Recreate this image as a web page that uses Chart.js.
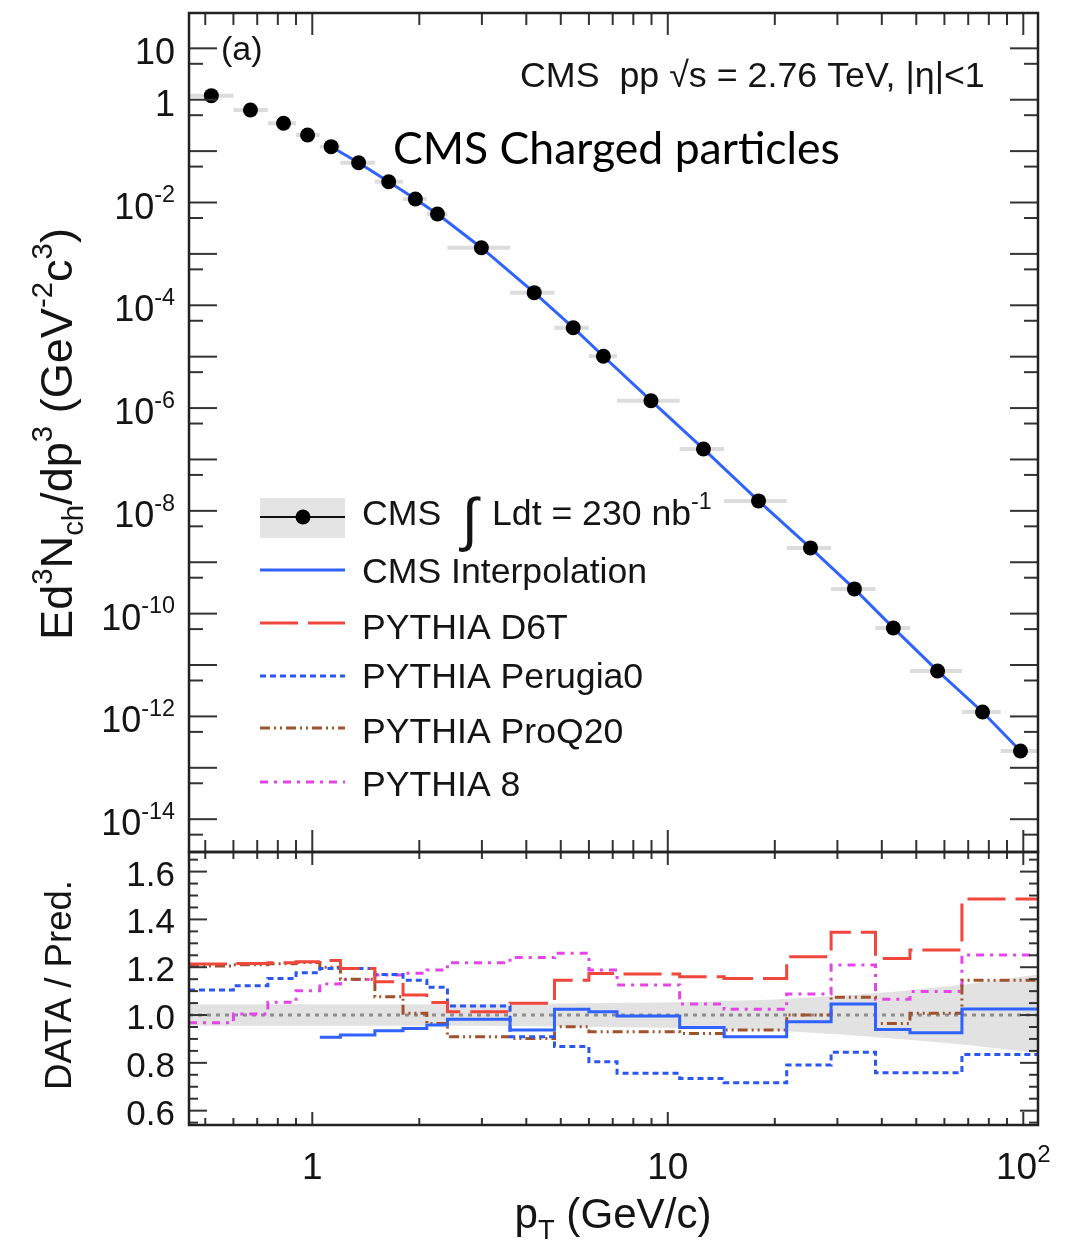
<!DOCTYPE html>
<html>
<head>
<meta charset="utf-8">
<script src="https://cdn.jsdelivr.net/npm/chart.js@4"></script>
<style>
body { margin: 0; background: #fff; width: 1078px; height: 1248px; position: relative; overflow: hidden; }
canvas { position: absolute; left: 0; }
#top { top: 0; }
#ratio { top: 840px; }
</style>
</head>
<body>
<canvas id="top" width="1078" height="860"></canvas>
<canvas id="ratio" width="1078" height="408"></canvas>
<script>
// pT bin edges (GeV/c), shared by the spectrum points and the ratio histograms
const binEdges = [0.45, 0.6, 0.75, 0.9, 1.05, 1.2, 1.5, 1.8, 2.1, 2.4, 3.6, 4.8, 6.0, 7.2, 10.8, 14.4, 21.6, 28.8, 38.4, 48.0, 67.2, 86.4, 110];

// measured invariant yield
const ptPoints = [0.52, 0.67, 0.83, 0.97, 1.13, 1.35, 1.64, 1.95, 2.25, 2.99, 4.21, 5.42, 6.59, 8.97, 12.6, 18.0, 25.2, 33.5, 43.1, 57.4, 76.8, 98.2];
const yieldPoints = [1.20, 0.63, 0.348, 0.206, 0.122, 0.0594, 0.0254, 0.0117, 0.00597, 0.00132, 1.76e-4, 3.66e-5, 1.02e-5, 1.39e-6, 1.60e-7, 1.56e-8, 1.90e-9, 3.03e-10, 5.27e-11, 7.67e-12, 1.22e-12, 2.13e-13];
const interpFrom = 4; // interpolation curve starts at the 5th point

// DATA / Pred. per bin
const ratioInterp = [null, null, null, null, 0.907, 0.917, 0.934, 0.944, 0.958, 0.982, 0.937, 1.024, 1.014, 0.996, 0.948, 0.909, 0.972, 1.046, 0.940, 0.926, 1.025, 1.025];
const ratioD6T = [1.213, 1.216, 1.219, 1.223, 1.228, 1.195, 1.139, 1.084, 1.052, 1.014, 1.049, 1.146, 1.174, 1.172, 1.160, 1.153, 1.244, 1.346, 1.237, 1.272, 1.485, 1.485];
const ratioPerugia0 = [1.105, 1.123, 1.153, 1.177, 1.195, 1.195, 1.170, 1.146, 1.116, 1.038, 0.909, 0.868, 0.805, 0.756, 0.735, 0.717, 0.791, 0.844, 0.759, 0.759, 0.835, 0.835];
const ratioProQ20 = [1.205, 1.210, 1.215, 1.220, 1.200, 1.150, 1.077, 1.007, 0.965, 0.909, 0.902, 0.951, 0.930, 0.930, 0.923, 0.937, 1.000, 1.074, 0.965, 1.007, 1.146, 1.146];
const ratioPythia8 = [0.968, 1.004, 1.053, 1.102, 1.130, 1.149, 1.167, 1.175, 1.188, 1.219, 1.241, 1.258, 1.188, 1.126, 1.046, 1.024, 1.088, 1.209, 1.066, 1.098, 1.251, 1.251];

// systematic uncertainty band around 1
const bandPt = [0.45, 3, 7, 12, 20, 30, 45, 70, 110];
const bandUp = [1.045, 1.045, 1.05, 1.055, 1.065, 1.08, 1.10, 1.13, 1.17];
const bandLo = [0.955, 0.955, 0.95, 0.945, 0.935, 0.92, 0.90, 0.875, 0.84];

// axis ranges and tick labels
const xRange = [0.45, 110];
const yRange = [2.3e-15, 48.7];
const ratioRange = [0.54, 1.682];
const xLabelValues = [1, 10, 100];
const yLabelExps = [1, 0, -2, -4, -6, -8, -10, -12, -14];
const ratioLabels = [0.6, 0.8, 1.0, 1.2, 1.4, 1.6];

const legendNames = ["CMS", "CMS Interpolation", "PYTHIA D6T", "PYTHIA Perugia0", "PYTHIA ProQ20", "PYTHIA 8"];

const FONT = '"Liberation Sans", Arial, Helvetica, sans-serif';
const INK = "#141414";
const C_INTERP = "#2f62ff", C_D6T = "#f0463c", C_PER = "#2b56f0", C_PRO = "#a0522d", C_P8 = "#e545e8";
const D_D6T = [38, 10], D_PER = [6, 4], D_PRO = [10, 4, 2, 4, 2, 4], D_P8 = [8, 6, 3, 6];

function xy(xs, ys) { return xs.map((x, i) => ({ x: x, y: ys[i] })); }

function hist(vals) {
    let pts = [];
    for (let i = 0; i < vals.length; i++) {
        if (vals[i] === null) continue;
        pts.push({ x: binEdges[i], y: vals[i] });
    }
    pts.push({ x: binEdges[vals.length], y: vals[vals.length - 1] });
    return pts;
}

// parts: [text, kind]  kind 0 normal, 1 superscript, -1 subscript
function richWidth(ctx, parts, size) {
    let w = 0;
    for (const [t, k] of parts) {
        ctx.font = (k ? size * 0.65 : size) + "px " + FONT;
        w += ctx.measureText(t).width;
    }
    return w;
}
function drawRich(ctx, parts, x, y, size, align) {
    let w = richWidth(ctx, parts, size);
    let cx = align === "right" ? x - w : align === "center" ? x - w / 2 : x;
    ctx.textAlign = "left";
    ctx.textBaseline = "alphabetic";
    for (const [t, k] of parts) {
        ctx.font = (k ? size * 0.65 : size) + "px " + FONT;
        let dy = k === 1 ? -size * 0.45 : k === -1 ? size * 0.25 : 0;
        ctx.fillText(t, cx, y + dy);
        cx += ctx.measureText(t).width;
    }
}
// font size that makes the parts span the given width
function fitSize(ctx, parts, width) {
    return 40 * width / richWidth(ctx, parts, 40);
}

function logTicks(lo, hi) {
    let major = [], minor = [];
    for (let e = -16; e <= 3; e++) {
        let d = Math.pow(10, e);
        if (d >= lo && d <= hi) major.push(d);
        for (let m = 2; m <= 9; m++) {
            let v = m * d;
            if (v > lo && v < hi) minor.push(v);
        }
    }
    return { major, minor };
}

function line(ctx, x1, y1, x2, y2) {
    ctx.beginPath();
    ctx.moveTo(x1, y1);
    ctx.lineTo(x2, y2);
    ctx.stroke();
}

function drawXTicks(ctx, sx, a, longTop, shortTop, longBot, shortBot) {
    const t = logTicks(xRange[0], xRange[1]);
    ctx.strokeStyle = "#333";
    ctx.lineWidth = 2;
    for (const v of t.major) {
        const p = sx.getPixelForValue(v);
        line(ctx, p, a.top, p, a.top + longTop);
        line(ctx, p, a.bottom, p, a.bottom - longBot);
    }
    for (const v of t.minor) {
        const p = sx.getPixelForValue(v);
        line(ctx, p, a.top, p, a.top + shortTop);
        line(ctx, p, a.bottom, p, a.bottom - shortBot);
    }
}

const topPanel = {
    id: "topPanel",
    beforeDatasetsDraw(chart) {
        const ctx = chart.ctx, sx = chart.scales.x, sy = chart.scales.y;
        ctx.save();
        ctx.strokeStyle = "rgba(185,185,185,0.5)";
        ctx.lineWidth = 4;
        for (let i = 0; i < ptPoints.length; i++) {
            const y = sy.getPixelForValue(yieldPoints[i]);
            line(ctx, sx.getPixelForValue(binEdges[i]), y, sx.getPixelForValue(binEdges[i + 1]), y);
        }
        ctx.restore();
    },
    afterDraw(chart) {
        const ctx = chart.ctx, a = chart.chartArea, sx = chart.scales.x, sy = chart.scales.y;
        ctx.save();
        // y ticks: decades long, half decades short
        ctx.strokeStyle = "#333";
        ctx.lineWidth = 2;
        for (let e = -15; e <= 1; e++) {
            const d = Math.pow(10, e);
            const py = sy.getPixelForValue(d);
            if (py >= a.top && py <= a.bottom) {
                line(ctx, a.left, py, a.left + 28, py);
                line(ctx, a.right, py, a.right - 28, py);
            }
            const ph = sy.getPixelForValue(d * 5);
            if (ph >= a.top && ph <= a.bottom) {
                line(ctx, a.left, ph, a.left + 14, ph);
                line(ctx, a.right, ph, a.right - 14, ph);
            }
        }
        drawXTicks(ctx, sx, a, 22, 12, 22, 12);
        ctx.lineWidth = 2.5;
        ctx.strokeStyle = "#222";
        ctx.strokeRect(a.left, a.top, a.right - a.left, a.bottom - a.top);

        // y tick labels
        ctx.fillStyle = INK;
        for (const e of yLabelExps) {
            const py = sy.getPixelForValue(Math.pow(10, e)) + 16;
            let parts = e === 1 ? [["10", 0]] : e === 0 ? [["1", 0]] : [["10", 0], ["-" + (-e), 1]];
            drawRich(ctx, parts, 175, py, 36, "right");
        }

        // y axis title
        const yTitle = [["Ed", 0], ["3", 1], ["N", 0], ["ch", -1], ["/dp", 0], ["3", 1], [" (GeV", 0], ["-2", 1], ["c", 0], ["3", 1], [")", 0]];
        ctx.save();
        ctx.translate(72, 434);
        ctx.rotate(-Math.PI / 2);
        drawRich(ctx, yTitle, 0, 0, fitSize(ctx, yTitle, 412), "center");
        ctx.restore();

        // texts in the frame
        drawRich(ctx, [["(a)", 0]], 221, 60, 34, "left");
        const energy = [["CMS  pp \u221As = 2.76 TeV, |\u03B7|<1", 0]];
        drawRich(ctx, energy, 520, 87, Math.min(36, fitSize(ctx, energy, 465)), "left");
        ctx.font = '40px Lato, "Open Sans", sans-serif';
        const title = "CMS Charged particles";
        const sz = 40 * 447 / ctx.measureText(title).width;
        ctx.font = sz + 'px Lato, "Open Sans", sans-serif';
        ctx.textAlign = "left";
        ctx.textBaseline = "alphabetic";
        ctx.fillStyle = "#000";
        ctx.fillText(title, 393, 164);

        // legend
        const rows = [517, 570, 623, 676, 728, 782];
        const x0 = 260, x1 = 345, tx = 362;
        ctx.fillStyle = "#e4e4e4";
        ctx.fillRect(x0, 498, x1 - x0, 40);
        ctx.strokeStyle = "#111";
        ctx.lineWidth = 2;
        line(ctx, x0, rows[0], x1, rows[0]);
        ctx.fillStyle = "#000";
        ctx.beginPath();
        ctx.arc(303, rows[0], 7.5, 0, Math.PI * 2);
        ctx.fill();
        const styles = [null, [C_INTERP, []], [C_D6T, D_D6T], [C_PER, D_PER], [C_PRO, D_PRO], [C_P8, D_P8]];
        for (let i = 1; i < rows.length; i++) {
            ctx.strokeStyle = styles[i][0];
            ctx.setLineDash(styles[i][1]);
            ctx.lineWidth = 3;
            line(ctx, x0, rows[i], x1, rows[i]);
        }
        ctx.setLineDash([]);
        ctx.fillStyle = INK;
        const lsz = fitSize(ctx, [[legendNames[2], 0]], 206);
        const shift = [-5, 0, 3, -1, 2, 1];
        for (let i = 0; i < rows.length; i++) {
            drawRich(ctx, [[legendNames[i], 0]], tx, rows[i] + shift[i] + lsz * 0.36, lsz, "left");
        }
        ctx.font = "italic 58px " + FONT;
        ctx.fillText("\u222B", 462, rows[0] + 22);
        drawRich(ctx, [["Ldt = 230 nb", 0], ["-1", 1]], 492, rows[0] - 5 + lsz * 0.36, lsz, "left");
        ctx.restore();
    }
};

const ratioPanel = {
    id: "ratioPanel",
    afterDraw(chart) {
        const ctx = chart.ctx, a = chart.chartArea, sx = chart.scales.x, sy = chart.scales.y;
        ctx.save();
        ctx.strokeStyle = "#333";
        ctx.lineWidth = 2;
        for (let k = 11; k <= 34; k++) {
            const v = k * 0.05;
            const py = sy.getPixelForValue(v);
            if (py < a.top || py > a.bottom) continue;
            const len = k % 4 === 0 ? 18 : 9;
            line(ctx, a.left, py, a.left + len, py);
            line(ctx, a.right, py, a.right - len, py);
        }
        drawXTicks(ctx, sx, a, 13, 7, 13, 7);
        ctx.lineWidth = 2.5;
        ctx.strokeStyle = "#222";
        ctx.strokeRect(a.left, a.top, a.right - a.left, a.bottom - a.top);

        ctx.fillStyle = INK;
        for (const v of ratioLabels) {
            drawRich(ctx, [[v.toFixed(1), 0]], 175, sy.getPixelForValue(v) + 14, 35, "right");
        }
        const labelY = a.bottom + 54;
        for (const v of xLabelValues) {
            let parts = v === 100 ? [["10", 0], ["2", 1]] : [[String(v), 0]];
            drawRich(ctx, parts, sx.getPixelForValue(v), labelY, 37, "center");
        }
        const xTitle = [["p", 0], ["T", -1], [" (GeV/c)", 0]];
        drawRich(ctx, xTitle, 613, a.bottom + 103, fitSize(ctx, xTitle, 197), "center");

        const rTitle = [["DATA / Pred.", 0]];
        ctx.save();
        ctx.translate(71, 985 - 840);
        ctx.rotate(-Math.PI / 2);
        drawRich(ctx, rTitle, 0, 0, fitSize(ctx, rTitle, 210), "center");
        ctx.restore();
        ctx.restore();
    }
};

const common = {
    responsive: false,
    animation: false,
    events: [],
    plugins: { legend: { display: false }, tooltip: { enabled: false } }
};

new Chart(document.getElementById("top").getContext("2d"), {
    type: "scatter",
    data: {
        datasets: [
            {
                label: "CMS",
                data: xy(ptPoints, yieldPoints),
                backgroundColor: "#000",
                borderWidth: 0,
                pointRadius: 7.5,
                order: 0
            },
            {
                type: "line",
                label: "CMS Interpolation",
                data: xy(ptPoints.slice(interpFrom), yieldPoints.slice(interpFrom)),
                borderColor: C_INTERP,
                borderWidth: 3,
                pointRadius: 0,
                fill: false,
                order: 1
            }
        ]
    },
    options: Object.assign({}, common, {
        layout: { padding: { left: 189, right: 40, top: 13, bottom: 8 } },
        scales: {
            x: { type: "logarithmic", min: xRange[0], max: xRange[1], display: false },
            y: { type: "logarithmic", min: yRange[0], max: yRange[1], display: false }
        }
    }),
    plugins: [topPanel]
});

function histSet(label, vals, color, dash, order) {
    return {
        type: "line",
        label: label,
        data: hist(vals),
        stepped: true,
        borderColor: color,
        borderDash: dash,
        borderWidth: 3,
        pointRadius: 0,
        fill: false,
        order: order
    };
}

new Chart(document.getElementById("ratio").getContext("2d"), {
    type: "scatter",
    data: {
        datasets: [
            { type: "line", label: "band up", data: xy(bandPt, bandUp), borderWidth: 0, pointRadius: 0, backgroundColor: "#e2e2e2", fill: "+1", order: 10 },
            { type: "line", label: "band lo", data: xy(bandPt, bandLo), borderWidth: 0, pointRadius: 0, fill: false, order: 11 },
            { type: "line", label: "unity", data: xy(xRange, [1, 1]), borderColor: "#8c8c8c", borderDash: [4, 5], borderWidth: 3, pointRadius: 0, fill: false, order: 9 },
            histSet("PYTHIA 8", ratioPythia8, C_P8, D_P8, 5),
            histSet("PYTHIA ProQ20", ratioProQ20, C_PRO, D_PRO, 4),
            histSet("PYTHIA Perugia0", ratioPerugia0, C_PER, D_PER, 3),
            histSet("PYTHIA D6T", ratioD6T, C_D6T, D_D6T, 2),
            histSet("CMS Interpolation", ratioInterp, C_INTERP, [], 1)
        ]
    },
    options: Object.assign({}, common, {
        layout: { padding: { left: 189, right: 40, top: 12, bottom: 123 } },
        scales: {
            x: { type: "logarithmic", min: xRange[0], max: xRange[1], display: false },
            y: { type: "linear", min: ratioRange[0], max: ratioRange[1], display: false }
        }
    }),
    plugins: [ratioPanel]
});
</script>
</body>
</html>
